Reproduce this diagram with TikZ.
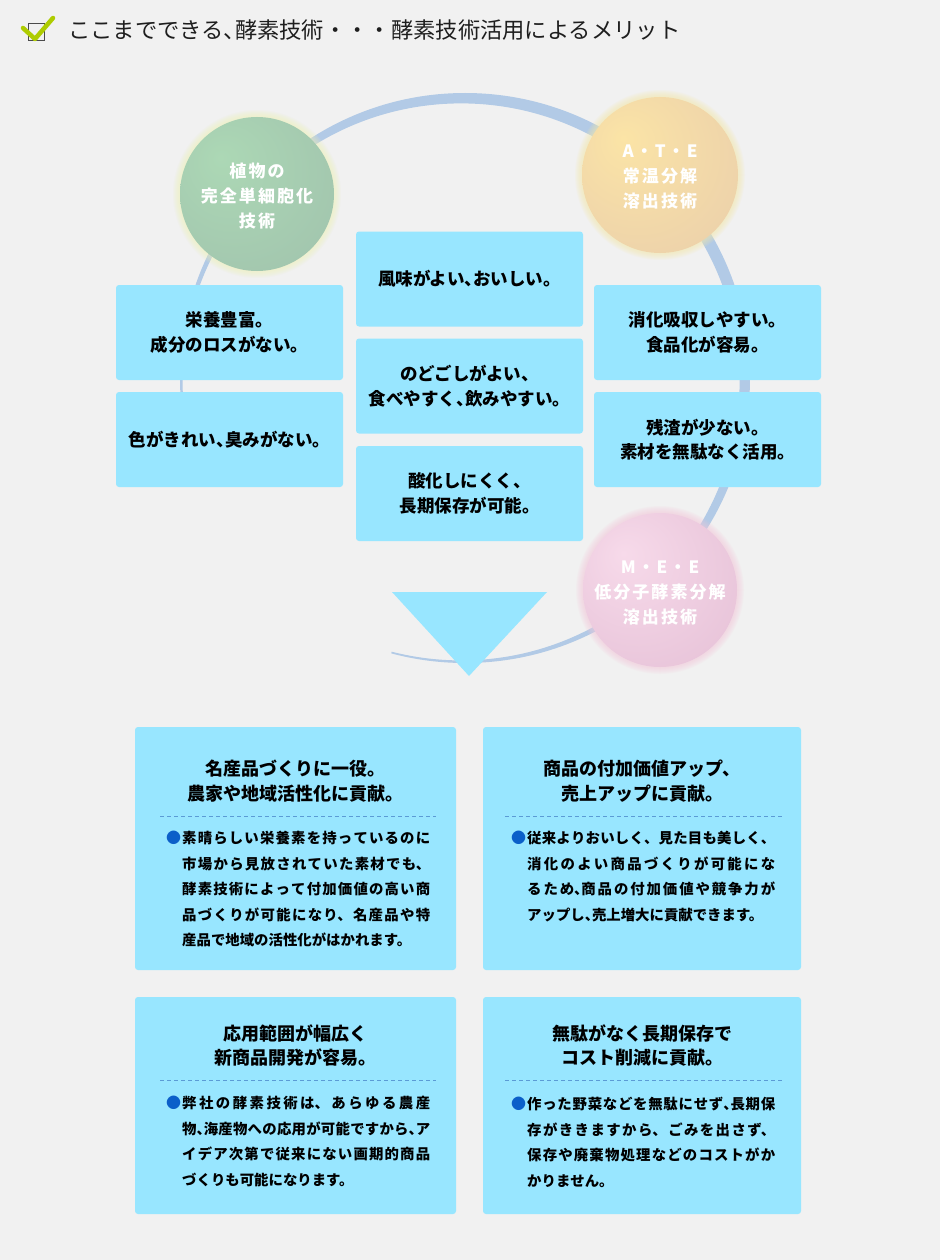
\documentclass[tikz,border=0pt]{standalone}
\usepackage{fontspec}
\setmainfont{Noto Sans CJK JP}
\newfontfamily\jpwide{Noto Sans CJK JP}[LetterSpace=12]
\XeTeXlinebreaklocale "ja"
\XeTeXlinebreakskip=0pt plus 4pt

\definecolor{bggray}{HTML}{F1F1F1}
\definecolor{boxcyan}{HTML}{98E6FF}
\definecolor{ringblue}{HTML}{B2CAE6}
\definecolor{bulletblue}{HTML}{0B5FC9}
\definecolor{dashblue}{HTML}{5B9BD5}
\definecolor{checkgreen}{HTML}{AECC00}
\definecolor{headgray}{HTML}{1E1E1E}
\definecolor{plantlt}{HTML}{ACD8B5}
\definecolor{plantdk}{HTML}{9BB8A9}
\definecolor{plantglow}{HTML}{EEF0B8}
\definecolor{atelt}{HTML}{FBE4A6}
\definecolor{atedk}{HTML}{E2C4AE}
\definecolor{ateglow}{HTML}{F8EBA8}
\definecolor{meelt}{HTML}{F7DAEA}
\definecolor{meedk}{HTML}{DDB4CD}
\definecolor{meeglow}{HTML}{F2C8DC}

\pgfdeclareradialshading{plantshade}{\pgfpoint{-12bp}{12bp}}{color(0bp)=(plantlt); color(62bp)=(plantdk)}
\pgfdeclareradialshading{ateshade}{\pgfpoint{-12bp}{12bp}}{color(0bp)=(atelt); color(62bp)=(atedk)}
\pgfdeclareradialshading{meeshade}{\pgfpoint{-12bp}{12bp}}{color(0bp)=(meelt); color(62bp)=(meedk)}

% half width comma
\newcommand\hc{\makebox[.5em][l]{、}}

\begin{document}
\begin{tikzpicture}[x=1pt,y=-1pt,
  smallbox/.style={fill=boxcyan, rounded corners=3pt, minimum width=227pt, minimum height=95pt},
  smalltext/.style={align=center, inner sep=0pt, font=\fontsize{17.5}{24.5}\selectfont\bfseries},
  bigbox/.style={fill=boxcyan, rounded corners=3pt},
  titletext/.style={align=center, inner sep=0pt, font=\fontsize{18}{24.5}\selectfont\bfseries},
  bodytext/.style={anchor=north west, inner sep=0pt, text width=248pt, align=justify, font=\fontsize{14.4}{25.5}\selectfont\bfseries},
  bulletmark/.style={inner sep=0pt, text=bulletblue, font=\fontsize{15}{15}\selectfont},
  dashline/.style={dashblue, line width=0.8pt, dash pattern=on 4pt off 3pt},
  balltext/.style={align=center, inner sep=0pt, text=white, font=\fontsize{17}{25}\jpwide\bfseries}]
\useasboundingbox (0,0) rectangle (940,1260);
\fill[bggray] (0,0) rectangle (940,1260);

% heading
\draw[headgray!80, line width=0.8pt] (28,23) rectangle (44,40);
\draw[checkgreen, line width=4.5pt, line cap=round, line join=round] (23,28) -- (35,39) -- (53,18);
\node[anchor=west, inner sep=0pt, text=headgray, font=\fontsize{22.3}{22.3}\selectfont] (headline) at (68,30)
  {ここまでできる\hc 酵素技術・・・酵素技術活用によるメリット};

% ring
\coordinate (ringc) at (465,378);
\begin{scope}
\clip (ringc) -- ++(170:330) arc[start angle=170, end angle=465, radius=330] -- cycle;
\fill[ringblue, even odd rule] (ringc) circle[radius=285] (461.1,381.9) circle[radius=278.5];
\end{scope}

% balls with glow
\coordinate (plantc) at (257,194);
\coordinate (atec) at (660,175);
\coordinate (meec) at (660,590);
\foreach \k in {7,...,1} {
  \fill[plantglow, opacity=0.1] (plantc) circle[radius=77+\k];
  \fill[ateglow, opacity=0.1] (atec) circle[radius=78+\k];
  \fill[meeglow, opacity=0.1] (meec) circle[radius=77+\k];
}
\shade[shading=plantshade] (plantc) circle[radius=77];
\shade[shading=ateshade] (atec) circle[radius=78];
\shade[shading=meeshade] (meec) circle[radius=77];
\node[balltext] (plant) at (257,196) {植物の\\完全単細胞化\\技術};
\node[balltext] (ate) at (660,177) {A・T・E\\常温分解\\溶出技術};
\node[balltext] (mee) at (660,593) {M・E・E\\低分子酵素分解\\溶出技術};

% small boxes
\node[smallbox] (nutri) at (229.5,332.5) {};
\node[smallbox] (color) at (229.5,439.5) {};
\node[smallbox] (taste) at (469.5,279) {};
\node[smallbox] (swallow) at (469.5,386) {};
\node[smallbox] (keep) at (469.5,493.5) {};
\node[smallbox] (digest) at (707.5,332.5) {};
\node[smallbox] (residue) at (707.5,439.5) {};
\node[smalltext] at (nutri) {栄養豊富。\\成分のロスがない。};
\node[smalltext] at (color) {色がきれい\hc 臭みがない。};
\node[smalltext] at (taste) {風味がよい\hc おいしい。};
\node[smalltext] at (swallow) {のどごしがよい、\\食べやすく\hc 飲みやすい。};
\node[smalltext] at (keep) {酸化しにくく、\\長期保存が可能。};
\node[smalltext] at (digest) {消化吸収しやすい。\\食品化が容易。};
\node[smalltext] at (residue) {残渣が少ない。\\素材を無駄なく活用。};

% arrow down
\fill[boxcyan] (392,592) -- (547,592) -- (469,676) -- cycle;

% merit boxes
\node[bigbox, minimum width=321pt, minimum height=243pt] (brand) at (295.5,848.5) {};
\node[bigbox, minimum width=318pt, minimum height=243pt] (value) at (642,848.5) {};
\node[bigbox, minimum width=321pt, minimum height=217pt] (range) at (295.5,1105.5) {};
\node[bigbox, minimum width=318pt, minimum height=217pt] (cost) at (642,1105.5) {};

\node[titletext] (brandtitle) at (295.5,781) {名産品づくりに一役。\\農家や地域活性化に貢献。};
\node[titletext] (valuetitle) at (642,781) {商品の付加価値アップ、\\売上アップに貢献。};
\node[titletext] (rangetitle) at (295.5,1045.5) {応用範囲が幅広く\\新商品開発が容易。};
\node[titletext] (costtitle) at (642,1045.5) {無駄がなく長期保存で\\コスト削減に貢献。};

\draw[dashline] (160,816) -- (436,816);
\draw[dashline] (505,816) -- (782,816);
\draw[dashline] (160,1080) -- (436,1080);
\draw[dashline] (505,1080) -- (782,1080);

\node[bulletmark] (brandmark) at (173.5,838) {●};
\node[bulletmark] (valuemark) at (518.5,838) {●};
\node[bulletmark] (rangemark) at (173.5,1103) {●};
\node[bulletmark] (costmark) at (518.5,1104) {●};

\node[bodytext] (brandbody) at (182,831) {素晴らしい栄養素を持っているのに\linebreak
市場から見放されていた素材でも、\linebreak
酵素技術によって付加価値の高い商\linebreak
品づくりが可能になり、名産品や特\linebreak
産品で地域の活性化がはかれます。};
\node[bodytext] (valuebody) at (527,831) {従来よりおいしく、見た目も美しく、\linebreak
消化のよい商品づくりが可能にな\linebreak
るため\hc 商品の付加価値や競争力が\linebreak
アップし\hc 売上増大に貢献できます。};
\node[bodytext] (rangebody) at (182,1096) {弊社の酵素技術は、あらゆる農産\linebreak
物\hc 海産物への応用が可能ですから\hc ア\linebreak
イデア次第で従来にない画期的商品\linebreak
づくりも可能になります。};
\node[bodytext] (costbody) at (527,1097) {作った野菜などを無駄にせず\hc 長期保\linebreak
存がききますから、ごみを出さず、\linebreak
保存や廃棄物処理などのコストがか\linebreak
かりません。};
\end{tikzpicture}
\end{document}
